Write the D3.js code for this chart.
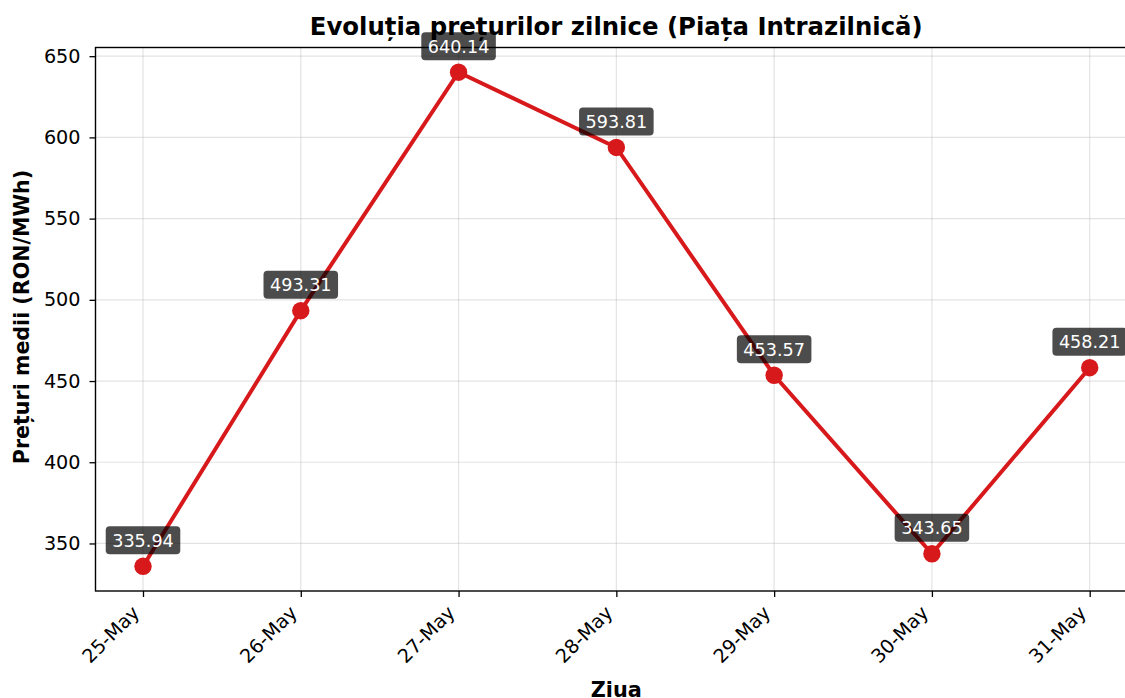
<!DOCTYPE html>
<html>
<head>
<meta charset="utf-8">
<script src="https://cdn.jsdelivr.net/npm/d3@7"></script>
<style>
  body { margin: 0; background: #fff; }
  svg { display: block; font-family: "DejaVu Sans", sans-serif; }
  svg text { font-family: "DejaVu Sans", sans-serif; }
</style>
</head>
<body>
<div id="chart-area"></div>
<script>
// data
var days = ["25-May", "26-May", "27-May", "28-May", "29-May", "30-May", "31-May"];
var prices = [335.94, 493.31, 640.14, 593.81, 453.57, 343.65, 458.21];
var yTicks = [350, 400, 450, 500, 550, 600, 650];

var W = 1125, H = 698;
// plot box (right edge runs past the picture, like the reference)
var margin = {top: 47.5, left: 95.5};
var plotRight = 1137, plotBottom = 591;

var svg = d3.select("#chart-area").append("svg")
    .attr("width", W)
    .attr("height", H);

var x = d3.scalePoint()
    .domain(days)
    .range([143, 1089.7]);

var y = d3.scaleLinear()
    .domain([320.73, 655.35])
    .range([plotBottom, margin.top]);

// grid
var grid = svg.append("g");
grid.selectAll(".gx").data(days).enter().append("line")
    .attr("x1", d => x(d)).attr("x2", d => x(d))
    .attr("y1", margin.top).attr("y2", plotBottom)
    .attr("stroke", "#b0b0b0").attr("stroke-opacity", 0.35).attr("stroke-width", 1.2);
grid.selectAll(".gy").data(yTicks).enter().append("line")
    .attr("x1", margin.left).attr("x2", plotRight)
    .attr("y1", d => y(d)).attr("y2", d => y(d))
    .attr("stroke", "#b0b0b0").attr("stroke-opacity", 0.35).attr("stroke-width", 1.2);

// axes
var xAxis = d3.axisBottom(x).tickSize(6).tickPadding(4);
var yAxis = d3.axisLeft(y).tickValues(yTicks).tickSize(6).tickPadding(9);

var xg = svg.append("g")
    .attr("transform", "translate(0," + plotBottom + ")")
    .call(xAxis);
xg.select(".domain").remove();
xg.selectAll("line").attr("stroke", "#000").attr("stroke-width", 1.3);
xg.selectAll("text")
    .style("font-size", "19.2px")
    .attr("fill", "#000")
    .attr("text-anchor", "end")
    .attr("x", 0).attr("y", 0).attr("dy", 0)
    .attr("transform", "translate(-3,23) rotate(-45)");

var yg = svg.append("g")
    .attr("transform", "translate(" + margin.left + ",0)")
    .call(yAxis);
yg.select(".domain").remove();
yg.selectAll("line").attr("stroke", "#000").attr("stroke-width", 1.3);
yg.selectAll("text").style("font-size", "19.2px").attr("fill", "#000");

// frame
svg.append("rect")
    .attr("x", margin.left).attr("y", margin.top)
    .attr("width", plotRight - margin.left).attr("height", plotBottom - margin.top)
    .attr("fill", "none").attr("stroke", "#000").attr("stroke-width", 1.4);

// titles
svg.append("text")
    .attr("x", (margin.left + plotRight) / 2).attr("y", 35)
    .attr("text-anchor", "middle")
    .style("font-size", "24.4px").attr("font-weight", "bold")
    .text("Evoluția prețurilor zilnice (Piața Intrazilnică)");

svg.append("text")
    .attr("x", (margin.left + plotRight) / 2).attr("y", 697)
    .attr("text-anchor", "middle")
    .style("font-size", "20.8px").attr("font-weight", "bold")
    .text("Ziua");

svg.append("text")
    .attr("transform", "translate(29,317) rotate(-90)")
    .attr("text-anchor", "middle")
    .style("font-size", "20.6px").attr("font-weight", "bold")
    .text("Prețuri medii (RON/MWh)");

// line + markers
var line = d3.line()
    .x((d, i) => x(days[i]))
    .y(d => y(d));

svg.append("path")
    .datum(prices)
    .attr("d", line)
    .attr("fill", "none")
    .attr("stroke", "#d7191c")
    .attr("stroke-width", 4);

svg.selectAll(".dot").data(prices).enter().append("circle")
    .attr("cx", (d, i) => x(days[i]))
    .attr("cy", d => y(d))
    .attr("r", 8.7)
    .attr("fill", "#d7191c");

// value labels
var labels = svg.selectAll(".lbl").data(prices).enter().append("g")
    .attr("transform", (d, i) => "translate(" + x(days[i]) + "," + (y(d) - 26) + ")");

labels.append("text")
    .attr("text-anchor", "middle")
    .attr("dy", "0.36em")
    .style("font-size", "17.6px")
    .attr("fill", "#fff")
    .text(d => d.toFixed(2));

labels.each(function() {
    var g = d3.select(this);
    var bb = g.select("text").node().getBBox();
    g.insert("rect", "text")
        .attr("x", bb.x - 6.5).attr("y", -14)
        .attr("width", bb.width + 13).attr("height", 28)
        .attr("rx", 4)
        .attr("fill", "#000").attr("fill-opacity", 0.7);
});
</script>
</body>
</html>
